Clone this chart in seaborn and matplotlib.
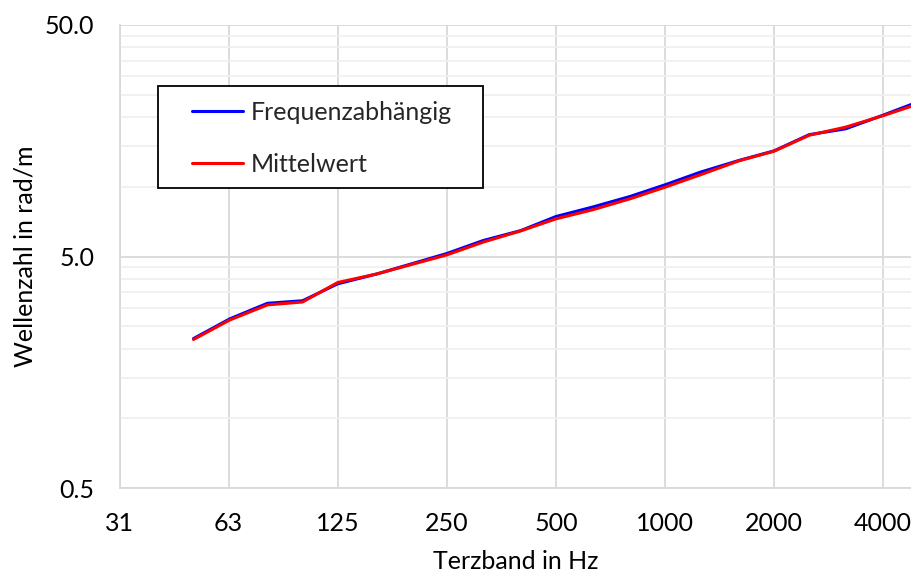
import numpy as np
import pandas as pd
import matplotlib
matplotlib.use("Agg")
import matplotlib.pyplot as plt
import matplotlib.ticker as mticker
from matplotlib.patches import Rectangle
from matplotlib.lines import Line2D
import seaborn as sns

# Third-octave band centre frequencies (Hz)
freqs = [50, 63, 80, 100, 125, 160, 200, 250, 315, 400, 500, 630,
         800, 1000, 1250, 1600, 2000, 2500, 3150, 4000, 5000]
# Wave number, frequency dependent (rad/m)
k_freq = [2.21, 2.69, 3.14, 3.22, 3.81, 4.20, 4.65, 5.15, 5.86, 6.47, 7.44,
          8.17, 9.08, 10.2, 11.56, 13.0, 14.3, 16.8, 17.8, 20.4, 23.3]
# Wave number, averaged (rad/m)
k_mean = [2.19, 2.66, 3.09, 3.18, 3.86, 4.20, 4.62, 5.08, 5.77, 6.45, 7.27,
          7.95, 8.87, 9.96, 11.26, 12.95, 14.25, 16.7, 18.1, 20.3, 22.8]

series_names = ["Frequenzabhängig", "Mittelwert"]
series_colors = ["#0000FF", "#FF0000"]
x_ticks = [31.25, 62.5, 125, 250, 500, 1000, 2000, 4000]
x_tick_labels = ["31", "63", "125", "250", "500", "1000", "2000", "4000"]
y_ticks = [0.5, 5.0, 50.0]
y_tick_labels = ["0.5", "5.0", "50.0"]

df = pd.DataFrame({
    "f": freqs * 2,
    "k": k_freq + k_mean,
    "series": [series_names[0]] * len(freqs) + [series_names[1]] * len(freqs),
})

sns.set_theme(style="white")
plt.rcParams["font.family"] = ["Lato", "DejaVu Sans"]

FS = 18
GRID_MAJOR = "#d9d9d9"
GRID_MINOR = "#f0f0f0"

fig = plt.figure(figsize=(9.11, 5.74), dpi=100)
ax = fig.add_axes([119.5 / 911, 86 / 574, (911 - 119.5) / 911, (488 - 25) / 574])

sns.lineplot(data=df, x="f", y="k", hue="series", hue_order=series_names,
             palette=dict(zip(series_names, series_colors)), linewidth=2.2,
             legend=False, ax=ax, zorder=3)

ax.set_xscale("log", base=2)
ax.set_yscale("log")
x_max = 31.25 * 2 ** ((911 - 119.5) / 109.1)
ax.set_xlim(31.25, x_max)
ax.set_ylim(0.5, 50)

ax.xaxis.set_major_locator(mticker.FixedLocator(x_ticks))
ax.xaxis.set_major_formatter(mticker.FixedFormatter(x_tick_labels))
ax.xaxis.set_minor_locator(mticker.NullLocator())
ax.yaxis.set_major_locator(mticker.FixedLocator(y_ticks))
ax.yaxis.set_major_formatter(mticker.FixedFormatter(y_tick_labels))
minor_y = [m * d for d in (0.1, 1.0, 10.0) for m in (10, 15, 20, 25, 30, 35, 40, 45)]
ax.yaxis.set_minor_locator(mticker.FixedLocator([v for v in minor_y if 0.5 < v < 50]))
ax.yaxis.set_minor_formatter(mticker.NullFormatter())

ax.grid(which="major", axis="both", color=GRID_MAJOR, linewidth=1.3, zorder=0)
ax.grid(which="minor", axis="y", color=GRID_MINOR, linewidth=1.3, zorder=0)
ax.set_axisbelow(True)

for side in ("top", "right"):
    ax.spines[side].set_visible(False)
for side in ("left", "bottom"):
    ax.spines[side].set_color(GRID_MAJOR)
    ax.spines[side].set_linewidth(1.3)

ax.tick_params(axis="both", which="major", direction="out", length=6,
               width=1.3, color=GRID_MAJOR, labelsize=FS, labelcolor="#000000")
ax.tick_params(axis="x", which="major", pad=11)
ax.tick_params(axis="y", which="major", pad=12)
ax.tick_params(axis="y", which="minor", length=0)

ax.set_xlabel("Terzband in Hz", fontsize=FS, color="#000000", labelpad=11)
ax.set_ylabel("Wellenzahl in rad/m", fontsize=FS, color="#000000", labelpad=6)

# Legend box with its own white background
box_x0, box_y0, box_x1, box_y1 = 158, 86, 483, 188
ax.add_patch(Rectangle((box_x0 / 911, 1 - box_y1 / 574),
                       (box_x1 - box_x0) / 911, (box_y1 - box_y0) / 574,
                       transform=fig.transFigure, facecolor="white",
                       edgecolor="black", linewidth=1.3, zorder=5))
handles = [Line2D([], [], color=c, linewidth=2.2) for c in series_colors]
leg = ax.legend(handles, series_names, loc="upper left",
                bbox_to_anchor=(192 / 911, 1 - 101 / 574),
                bbox_transform=fig.transFigure, frameon=False,
                fontsize=FS, handlelength=2.05, handletextpad=0.3,
                labelspacing=1.15, borderpad=0.0, borderaxespad=0.0)
leg.set_zorder(6)

fig.savefig("out.png", dpi=100)
